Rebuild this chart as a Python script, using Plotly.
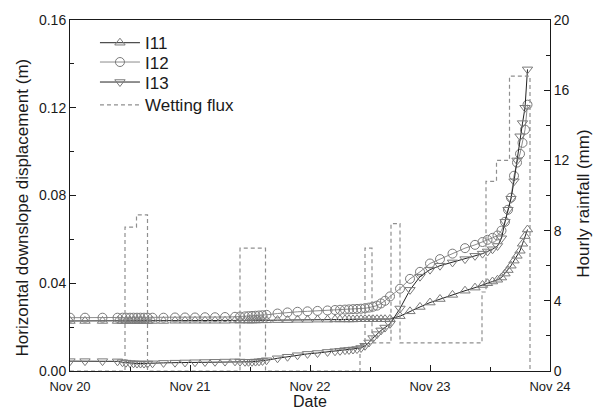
import pandas as pd
import plotly.graph_objects as go

# Measurement times, hours after Nov 20 00:00
hours = [0, 3, 6.5, 9.5, 10.5, 11.2, 12, 12.7, 13.4, 14.1, 14.8, 15.5, 16.5, 18.7,
         21, 23, 25, 27, 29, 31, 33, 34, 35, 35.7, 36.4, 37.1, 37.8, 38.5, 39.3,
         41.5, 43.5, 45.5, 47.5, 49.5, 51.5, 53, 54, 55, 55.8, 56.6, 57.4, 58.2,
         59, 59.8, 60.6, 61.4, 62.2, 63, 64, 66, 68, 70, 72, 74, 76.5, 79, 81,
         82.5, 83.5, 84.5, 85.5, 86.3, 87, 87.6, 88.2, 88.8, 89.4, 90, 90.5, 91, 91.5]

# Horizontal downslope displacement (m)
i11 = [0.0228, 0.0228, 0.0228, 0.0228, 0.0228, 0.0228, 0.0228, 0.0228, 0.0228, 0.0228,
       0.0228, 0.0228, 0.0228, 0.0228, 0.0229, 0.0229, 0.0229, 0.0229, 0.0229, 0.0229,
       0.0230, 0.0230, 0.0230, 0.0230, 0.0230, 0.0230, 0.0231, 0.0231, 0.0231,
       0.0232, 0.0232, 0.0233, 0.0233, 0.0234, 0.0234, 0.0235, 0.0235, 0.0235, 0.0235,
       0.0235, 0.0236, 0.0236, 0.0236, 0.0236, 0.0236, 0.0236, 0.0236, 0.0236, 0.0237,
       0.0250, 0.0272, 0.0292, 0.0312, 0.0328, 0.0347, 0.0366, 0.0380, 0.0392, 0.0400,
       0.0408, 0.0416, 0.0426, 0.0444, 0.0460, 0.0480, 0.0503, 0.0525, 0.0548, 0.0580,
       0.0615, 0.0645]

i12 = [0.0243, 0.0243, 0.0243, 0.0243, 0.0243, 0.0243, 0.0243, 0.0243, 0.0243, 0.0243,
       0.0243, 0.0243, 0.0243, 0.0243, 0.0244, 0.0244, 0.0244, 0.0245, 0.0245, 0.0246,
       0.0247, 0.0248, 0.0249, 0.0250, 0.0251, 0.0252, 0.0253, 0.0254, 0.0256,
       0.0262, 0.0267, 0.0270, 0.0272, 0.0274, 0.0276, 0.0278, 0.0279, 0.0280, 0.0281,
       0.0282, 0.0283, 0.0284, 0.0286, 0.0289, 0.0293, 0.0298, 0.0308, 0.0320, 0.0340,
       0.0375, 0.0420, 0.0452, 0.0490, 0.0510, 0.0535, 0.0560, 0.0575, 0.0588, 0.0598,
       0.0607, 0.0618, 0.0640, 0.0680, 0.0735, 0.0790, 0.0890, 0.0950, 0.0990, 0.1040,
       0.1100, 0.1214]

i13 = [0.0045, 0.0045, 0.0045, 0.0044, 0.0040, 0.0038, 0.0036, 0.0035, 0.0034, 0.0034,
       0.0034, 0.0034, 0.0035, 0.0037, 0.0038, 0.0039, 0.0040, 0.0041, 0.0042, 0.0043,
       0.0044, 0.0043, 0.0042, 0.0042, 0.0042, 0.0043, 0.0044, 0.0046, 0.0049,
       0.0058, 0.0065, 0.0072, 0.0078, 0.0082, 0.0087, 0.0090, 0.0092, 0.0095, 0.0096,
       0.0098, 0.0100, 0.0105, 0.0115, 0.0130, 0.0150, 0.0168, 0.0185, 0.0198, 0.0215,
       0.0285, 0.0370, 0.0430, 0.0462, 0.0480, 0.0495, 0.0510, 0.0525, 0.0535, 0.0545,
       0.0555, 0.0570, 0.0605, 0.0680, 0.0735, 0.0785, 0.0865, 0.0960, 0.1070, 0.1130,
       0.1200, 0.1375]

# Hourly rainfall (mm), each value held until the next change time
rain_hours = [0, 11, 13.3, 15.5, 34, 39.1, 58, 59, 60.4, 64.2, 66, 82.4, 83.2, 85.3, 87.9, 92]
rain_mm = [0, 8.2, 8.9, 0, 7.0, 0, 1.5, 7.0, 1.6, 8.4, 1.6, 4.5, 10.8, 12.0, 16.8, 0]

start = pd.Timestamp("2008-11-20 00:00")
t_disp = start + pd.to_timedelta(hours, unit="h")
t_rain = start + pd.to_timedelta(rain_hours, unit="h")

FONT = "Liberation Sans, Arial, Helvetica, sans-serif"
INK = "#1a1a1a"
MARK = "#7a7a7a"

# one single-entry legend per row so the row spacing can be set
legend_rows = {"legend": 0.934, "legend2": 0.879, "legend3": 0.822, "legend4": 0.757}

fig = go.Figure()

series = [
    ("I11", i11, "triangle-up-open", "#222222", "legend"),
    ("I12", i12, "circle-open", "#8c8c8c", "legend2"),
    ("I13", i13, "triangle-down-open", "#222222", "legend3"),
]
for name, vals, sym, lc, lg in series:
    fig.add_trace(go.Scatter(
        x=t_disp, y=vals, name=name, mode="lines+markers",
        line=dict(color=lc, width=1),
        marker=dict(symbol=sym, size=9, color=MARK, line=dict(width=1, color=MARK)),
        yaxis="y", legend=lg,
    ))

fig.add_trace(go.Scatter(
    x=t_rain, y=rain_mm, name="Wetting flux", mode="lines",
    line=dict(color="#8f8f8f", width=1.2, dash="4px,3px", shape="hv"),
    yaxis="y2", legend="legend4",
))

# axis titles placed as paper annotations
titles = [
    dict(text="Horizontal downslope displacement (m)", x=-0.1, y=0.466, textangle=-90,
         xanchor="center", yanchor="middle", font=dict(size=17, color=INK, family=FONT)),
    dict(text="Hourly rainfall (mm)", x=1.069, y=0.477, textangle=-90,
         xanchor="center", yanchor="middle", font=dict(size=17, color=INK, family=FONT)),
    dict(text="Date", x=0.5, y=-0.087, xanchor="center", yanchor="middle",
         font=dict(size=16, color=INK, family=FONT)),
]
for t in titles:
    fig.add_annotation(xref="paper", yref="paper", showarrow=False, **t)

legend_style = dict(x=0.052, xanchor="left", yanchor="middle",
                    bgcolor="rgba(0,0,0,0)", font=dict(size=17, color=INK),
                    itemwidth=40, tracegroupgap=0)

fig.update_layout(
    width=602, height=409,
    margin=dict(l=70, r=52, t=13, b=38),
    paper_bgcolor="white", plot_bgcolor="white",
    font=dict(family=FONT, size=14, color=INK),
    showlegend=True,
    **{k: dict(y=v, **legend_style) for k, v in legend_rows.items()},
    xaxis=dict(
        type="date",
        range=[start, start + pd.Timedelta(days=4)],
        dtick=86400000, tickformat="%b %d",
        ticks="inside", ticklen=6, tickwidth=1, tickcolor=INK,
        minor=dict(ticks="inside", ticklen=4, dtick=43200000, tickcolor=INK, showgrid=False),
        showline=True, linecolor=INK, linewidth=1, mirror=True,
        showgrid=False, zeroline=False,
        ticklabelstandoff=3,
        tickfont=dict(size=13),
    ),
    yaxis=dict(
        range=[0, 0.16], dtick=0.04, tickformat=".2f",
        ticks="inside", ticklen=6, tickwidth=1, tickcolor=INK,
        minor=dict(ticks="inside", ticklen=4, dtick=0.02, tickcolor=INK, showgrid=False),
        showline=True, linecolor=INK, linewidth=1,
        showgrid=False, zeroline=False,
        tickfont=dict(size=14),
    ),
    yaxis2=dict(
        range=[0, 20], dtick=4, overlaying="y", side="right",
        ticks="inside", ticklen=6, tickwidth=1, tickcolor=INK,
        minor=dict(ticks="inside", ticklen=4, dtick=2, tickcolor=INK, showgrid=False),
        showline=True, linecolor=INK, linewidth=1,
        showgrid=False, zeroline=False,
        tickfont=dict(size=14),
    ),
)

fig.write_html("out.html")
